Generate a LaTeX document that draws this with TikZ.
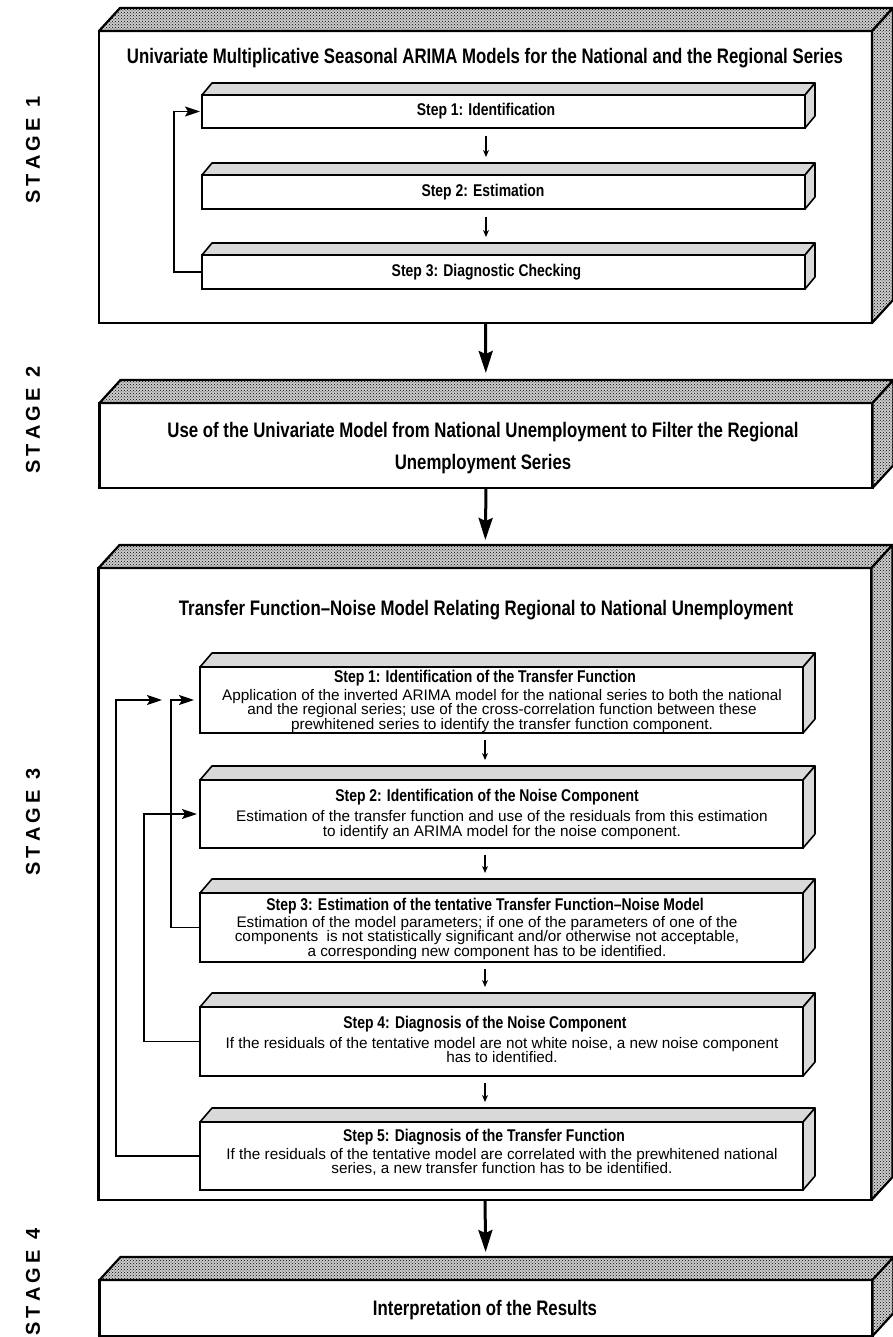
\documentclass[tikz,border=0pt]{standalone}
\usepackage{fontspec}
\setmainfont{Liberation Sans}
\newfontfamily\condfont[FakeStretch=0.80]{Liberation Sans}
\newfontfamily\condfontb[FakeStretch=0.82]{Liberation Sans}
\usetikzlibrary{patterns,arrows.meta,calc}
\newcommand\depthfaces[4]{%
  \path[#4] (#1.north west) -- ++(#2,-#3) -- ([shift={(#2,-#3)}]#1.north east) -- (#1.north east) -- cycle;
  \path[#4] (#1.north east) -- ++(#2,-#3) -- ([shift={(#2,-#3)}]#1.south east) -- (#1.south east) -- cycle;}
\newcommand\stagetext[1]{S\hspace{4pt}T\hspace{4pt}A\hspace{4pt}G\hspace{4pt}E\hspace{11pt}#1}
\begin{document}
\begin{tikzpicture}[x=1pt,y=-1pt,
  stagefront/.style={draw,line width=2.2pt,fill=white,inner sep=0pt,outer sep=0pt,minimum width=773pt},
  stepfront/.style={draw,line width=1.8pt,fill=white,inner sep=0pt,outer sep=0pt,minimum width=603pt},
  stagedepth/.style={draw,line width=2.2pt,line join=round,preaction={fill=gray!40},pattern=crosshatch dots,pattern color=black},
  stepdepth/.style={draw,line width=1.6pt,line join=round,fill=gray!30},
  bighead/.style={font=\condfont\bfseries\fontsize{21}{32}\selectfont,inner sep=0pt,align=center},
  stephead/.style={font=\condfontb\bfseries\fontsize{17}{19}\selectfont,inner sep=0pt},
  stepbody/.style={font=\fontsize{15.3}{14.8}\selectfont,inner sep=0pt,align=center},
  stagelabel/.style={font=\bfseries\fontsize{20}{20}\selectfont,rotate=90,inner sep=0pt},
  smallarr/.style={line width=1.5pt,-{Stealth[length=7pt,width=6pt]}},
  fbarr/.style={line width=1.8pt,-{Stealth[length=15pt,width=10pt,inset=3pt]}},
  bigarr/.style={line width=3pt,-{Stealth[length=22pt,width=14pt,inset=3pt]}}
]
\useasboundingbox (0,0) rectangle (892,1337);

% ---------- stage frames ----------
\node[stagefront,minimum height=292pt] (st1) at (485.5,177) {};
\node[stagefront,minimum height=85pt]  (st2) at (486,445.5) {};
\node[stagefront,minimum height=632pt] (st3) at (485,884) {};
\node[stagefront,minimum height=56pt]  (st4) at (486,1308) {};
\depthfaces{st1}{21}{23}{stagedepth}
\depthfaces{st2}{21}{23}{stagedepth}
\depthfaces{st3}{21}{23}{stagedepth}
\depthfaces{st4}{21}{23}{stagedepth}

% ---------- stage labels ----------
\node[stagelabel] (lab1) at (33,150) {\stagetext{1}};
\node[stagelabel] (lab2) at (33,420) {\stagetext{2}};
\node[stagelabel] (lab3) at (33,822) {\stagetext{3}};
\node[stagelabel] (lab4) at (33,1282) {\stagetext{4}};

% ---------- stage 1 ----------
\node[bighead] (tt1) at (485,58) {Univariate Multiplicative Seasonal ARIMA Models for the National and the Regional Series};
\node[stepfront,minimum height=33pt] (a1) at (503.5,111.5) {};
\node[stepfront,minimum height=34pt] (a2) at (503.5,192) {};
\node[stepfront,minimum height=34pt] (a3) at (503.5,272) {};
\depthfaces{a1}{10}{12}{stepdepth}
\depthfaces{a2}{10}{12}{stepdepth}
\depthfaces{a3}{10}{12}{stepdepth}
\node[stephead] (ta1) at (486,111.5) {Step 1: Identification};
\node[stephead] (ta2) at (483,192) {Step 2: Estimation};
\node[stephead] (ta3) at (486.5,272) {Step 3: Diagnostic Checking};
\draw[smallarr,shorten <=8pt,shorten >=18pt] (ta1 |- a1.south) -- (ta1 |- a2.north);
\draw[smallarr,shorten <=8pt,shorten >=18pt] (ta1 |- a2.south) -- (ta1 |- a3.north);
\draw[fbarr,shorten >=2pt] (a3.west) -- ++(-28,0) |- (a1.west);

% ---------- stage 2 ----------
\node[bighead] (tt2) at (483,448) {Use of the Univariate Model from National Unemployment to Filter the Regional\\Unemployment Series};

% ---------- stage 3 ----------
\node[bighead] (tt3) at (486,610) {Transfer Function\textendash Noise Model Relating Regional to National Unemployment};
\node[stepfront,minimum height=66pt] (b1) at (501.5,700) {};
\node[stepfront,minimum height=68pt] (b2) at (501.5,814) {};
\node[stepfront,minimum height=69pt] (b3) at (501.5,927.5) {};
\node[stepfront,minimum height=69pt] (b4) at (501.5,1041.5) {};
\node[stepfront,minimum height=68pt] (b5) at (501.5,1156) {};
\depthfaces{b1}{12}{14}{stepdepth}
\depthfaces{b2}{12}{14}{stepdepth}
\depthfaces{b3}{12}{14}{stepdepth}
\depthfaces{b4}{12}{14}{stepdepth}
\depthfaces{b5}{12}{14}{stepdepth}

\node[stephead] (h1) at (485,678) {Step 1: Identification of the Transfer Function};
\node[stepbody] (d1) at (502,711) {Application of the inverted ARIMA model for the national series to both the national\\and the regional series; use of the cross-correlation function between these\\prewhitened series to identify the transfer function component.};
\node[stephead] (h2) at (487,797) {Step 2: Identification of the Noise Component};
\node[stepbody] (d2) at (502,825) {Estimation of the transfer function and use of the residuals from this estimation\\to identify an ARIMA model for the noise component.};
\node[stephead] (h3) at (485,906) {Step 3: Estimation of the tentative Transfer Function\textendash Noise Model};
\node[stepbody] (d3) at (487,938) {Estimation of the model parameters; if one of the parameters of one of the\\components\ \ is not statistically significant and/or otherwise not acceptable,\\a corresponding new component has to be identified.};
\node[stephead] (h4) at (485,1024) {Step 4: Diagnosis of the Noise Component};
\node[stepbody] (d4) at (502,1050) {If the residuals of the tentative model are not white noise, a new noise component\\has to identified.};
\node[stephead] (h5) at (484,1137) {Step 5: Diagnosis of the Transfer Function};
\node[stepbody] (d5) at (502,1162) {If the residuals of the tentative model are correlated with the prewhitened national\\series, a new transfer function has to be identified.};

\draw[smallarr,shorten <=7pt,shorten >=20pt] (h1 |- b1.south) -- (h1 |- b2.north);
\draw[smallarr,shorten <=7pt,shorten >=20pt] (h1 |- b2.south) -- (h1 |- b3.north);
\draw[smallarr,shorten <=7pt,shorten >=20pt] (h1 |- b3.south) -- (h1 |- b4.north);
\draw[smallarr,shorten <=7pt,shorten >=20pt] (h1 |- b4.south) -- (h1 |- b5.north);

\draw[fbarr,shorten >=6pt] (b3.west) -- ++(-29,0) |- (b1.west);
\draw[fbarr,shorten >=3pt] (b4.west) -- ++(-56,0) |- (b2.west);
\draw[fbarr,shorten >=38pt] (b5.west) -- ++(-84,0) |- (b1.west);

% ---------- stage 4 ----------
\node[bighead] (tt4) at (485,1310) {Interpretation of the Results};

% ---------- stage connectors ----------
\draw[bigarr,shorten >=30pt] (st1.south) -- (st2.north);
\draw[bigarr,shorten >=28pt] (st2.south) -- (st3.north);
\draw[bigarr,shorten >=28pt] (st3.south) -- (st4.north);
\end{tikzpicture}
\end{document}
